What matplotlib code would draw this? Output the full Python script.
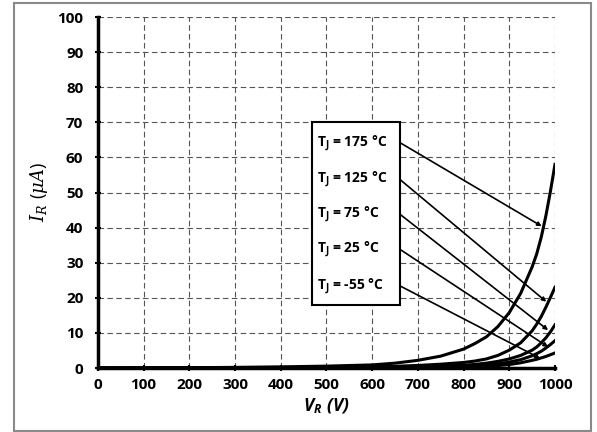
import matplotlib
matplotlib.use('Agg')
import matplotlib.pyplot as plt
from matplotlib.patches import Rectangle

# Dados (corrente reversa x tensão reversa)
vr = [0, 100, 200, 300, 400, 500, 600, 650, 700, 750, 800, 825, 850, 875, 900,
      925, 950, 960, 970, 980, 990, 1000]
ir_175 = [0, 0.05, 0.1, 0.2, 0.35, 0.55, 0.9, 1.4, 2.2, 3.4, 5.4, 7, 8.9, 11.8, 15.8,
          21.3, 28.8, 32.5, 37.3, 43.3, 50.3, 58]
ir_125 = [0, 0, 0.02, 0.05, 0.1, 0.2, 0.35, 0.5, 0.75, 1.1, 1.6, 2.0, 2.6, 3.6, 5.1,
          7.2, 10.6, 12.5, 14.7, 17.3, 20.1, 23]
ir_75 = [0, 0, 0, 0.02, 0.05, 0.1, 0.2, 0.3, 0.4, 0.55, 0.8, 1.05, 1.4, 1.9, 2.6,
         3.6, 5.1, 6, 7.2, 8.6, 10.3, 12.3]
ir_25 = [0, 0, 0, 0, 0.02, 0.05, 0.1, 0.17, 0.25, 0.35, 0.5, 0.65, 0.85, 1.2, 1.7,
         2.4, 3.5, 4.1, 4.8, 5.7, 6.7, 7.8]
ir_m55 = [0, 0, 0, 0, 0.01, 0.03, 0.06, 0.1, 0.15, 0.2, 0.3, 0.38, 0.5, 0.7, 1.0,
          1.5, 2.2, 2.5, 2.9, 3.3, 3.8, 4.3]

labels = ['T$_\\mathbf{J}$ = 175 °C', 'T$_\\mathbf{J}$ = 125 °C', 'T$_\\mathbf{J}$ = 75 °C',
          'T$_\\mathbf{J}$ = 25 °C', 'T$_\\mathbf{J}$ = -55 °C']
label_y = [64.2, 53.7, 43.8, 33.8, 23.4]
arrow_tip = [(971, 40.4), (981, 18.9), (985, 10.8), (985, 6.0), (967, 2.8)]

plt.rcParams['font.family'] = ['Open Sans', 'DejaVu Sans']
plt.rcParams['mathtext.fontset'] = 'custom'
plt.rcParams['mathtext.rm'] = 'Open Sans'
plt.rcParams['mathtext.bf'] = 'Open Sans:bold'
plt.rcParams['mathtext.it'] = 'DejaVu Serif:italic'
plt.rcParams['mathtext.bfit'] = 'Open Sans:bold:italic'

fig = plt.figure(figsize=(5.97, 4.32), dpi=100)
ax = fig.add_axes([0.164, 0.148, 0.7656, 0.8126])

# Moldura externa cinza
fig.patches.append(Rectangle((14 / 597, 1 - 431 / 432), 577 / 597, 428 / 432,
                             transform=fig.transFigure, fill=False,
                             edgecolor='#8a8a8a', linewidth=1.5))

for ir in [ir_175, ir_125, ir_75, ir_25, ir_m55]:
    ax.plot(vr, ir, color='black', linewidth=2.2, solid_joinstyle='round', zorder=3)

ax.set_xlim(0, 1000)
ax.set_ylim(0, 100)
ax.set_xticks(range(0, 1001, 100))
ax.set_yticks(range(0, 101, 10))
ax.grid(True, color='#555555', linestyle=(0, (5, 3)), linewidth=0.8)
ax.spines['top'].set_visible(False)
ax.spines['right'].set_visible(False)
ax.spines['left'].set_linewidth(2.5)
ax.spines['bottom'].set_linewidth(2.5)
ax.tick_params(direction='inout', length=5, width=1.5)
ax.tick_params(axis='y', pad=8)
ax.tick_params(axis='x', pad=5)
for t in ax.get_xticklabels() + ax.get_yticklabels():
    t.set_fontweight('bold')
    t.set_fontsize(11)

ax.set_ylabel(r'$I_R\ (\mu A)$', fontsize=13, labelpad=5)
ax.set_xlabel(r'$\mathbfit{V}_{\mathbfit{R}}\ \mathbfit{(V)}$', fontsize=12.5, labelpad=3)

# Caixa de legenda com setas
ax.add_patch(Rectangle((468, 18), 193, 52.2, facecolor='white', edgecolor='black',
                       linewidth=1.5, zorder=4))
for lab, ly, tip in zip(labels, label_y, arrow_tip):
    ax.text(480, ly, lab, fontsize=10, fontweight='bold', va='center', zorder=5)
    ax.annotate('', xy=tip, xytext=(661, ly),
                arrowprops=dict(arrowstyle='-|>', color='black', lw=1.2,
                                mutation_scale=6, shrinkA=0, shrinkB=0), zorder=5)

fig.savefig('out.png', dpi=100)
